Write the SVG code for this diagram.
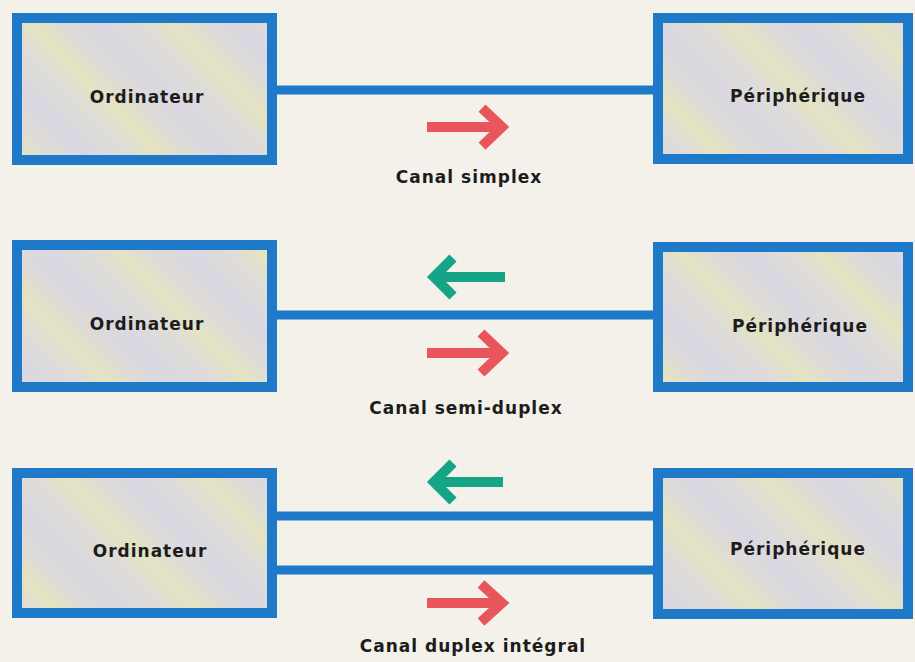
<svg xmlns="http://www.w3.org/2000/svg" width="915" height="662" viewBox="0 0 915 662">
  <defs>
    <!-- soft diagonal streaks in the panel fill -->
    <linearGradient id="panel" gradientUnits="userSpaceOnUse" x1="0" y1="70" x2="70" y2="0" spreadMethod="repeat">
      <stop offset="0" stop-color="#dad7e2"/>
      <stop offset="0.35" stop-color="#dfddd6"/>
      <stop offset="0.55" stop-color="#e4e3c2"/>
      <stop offset="0.75" stop-color="#dedcd5"/>
      <stop offset="1" stop-color="#dad7e2"/>
    </linearGradient>
    <style>
      .box { fill: url(#panel); stroke: #1e79c9; stroke-width: 10; }
      .wire { stroke: #1e79c9; stroke-width: 9; fill: none; }
      .fwd { stroke: #e8565b; stroke-width: 10; fill: none; stroke-linejoin: miter; }
      .back { stroke: #15a486; stroke-width: 10; fill: none; stroke-linejoin: miter; }
      .name { font-family: "DejaVu Sans", "Liberation Sans", sans-serif; font-weight: bold; font-size: 17px; letter-spacing: 1px; fill: #1c1c1c; text-anchor: middle; }
    </style>
  </defs>

  <rect x="0" y="0" width="915" height="662" fill="#f4f1ea"/>

  <!-- connectors -->
  <g id="connectors">
    <line class="wire" x1="277" y1="90" x2="655" y2="90"/>
    <line class="wire" x1="277" y1="315" x2="655" y2="315"/>
    <line class="wire" x1="277" y1="516" x2="655" y2="516"/>
    <line class="wire" x1="277" y1="570" x2="655" y2="570"/>
  </g>

  <!-- row 1: simplex -->
  <g id="ordinateur-1">
    <rect class="box" x="17" y="18" width="255" height="142"/>
    <text class="name" x="147" y="103">Ordinateur</text>
  </g>
  <g id="peripherique-1">
    <rect class="box" x="658" y="18" width="250" height="141"/>
    <text class="name" x="798" y="102">Périphérique</text>
  </g>
  <g id="flux-1">
    <line class="fwd" x1="427" y1="127" x2="500" y2="127"/>
    <polyline class="fwd" points="482,108 502,127 482,146"/>
    <text class="name" x="469" y="183">Canal simplex</text>
  </g>

  <!-- row 2: semi-duplex -->
  <g id="ordinateur-2">
    <rect class="box" x="17" y="245" width="255" height="142"/>
    <text class="name" x="147" y="330">Ordinateur</text>
  </g>
  <g id="peripherique-2">
    <rect class="box" x="658" y="247" width="250" height="140"/>
    <text class="name" x="800" y="332">Périphérique</text>
  </g>
  <g id="flux-2">
    <line class="back" x1="434" y1="277" x2="505" y2="277"/>
    <polyline class="back" points="453,258 434,277 453,296"/>
    <line class="fwd" x1="427" y1="353" x2="500" y2="353"/>
    <polyline class="fwd" points="481,333 502,353 481,373"/>
    <text class="name" x="466" y="414">Canal semi-duplex</text>
  </g>

  <!-- row 3: full duplex -->
  <g id="ordinateur-3">
    <rect class="box" x="17" y="473" width="255" height="140"/>
    <text class="name" x="150" y="557">Ordinateur</text>
  </g>
  <g id="peripherique-3">
    <rect class="box" x="658" y="473" width="250" height="141"/>
    <text class="name" x="798" y="555">Périphérique</text>
  </g>
  <g id="flux-3">
    <line class="back" x1="434" y1="482" x2="503" y2="482"/>
    <polyline class="back" points="453,463 434,482 453,501"/>
    <line class="fwd" x1="427" y1="603" x2="500" y2="603"/>
    <polyline class="fwd" points="481,584 502,603 481,622"/>
    <text class="name" x="473" y="652">Canal duplex intégral</text>
  </g>
</svg>
